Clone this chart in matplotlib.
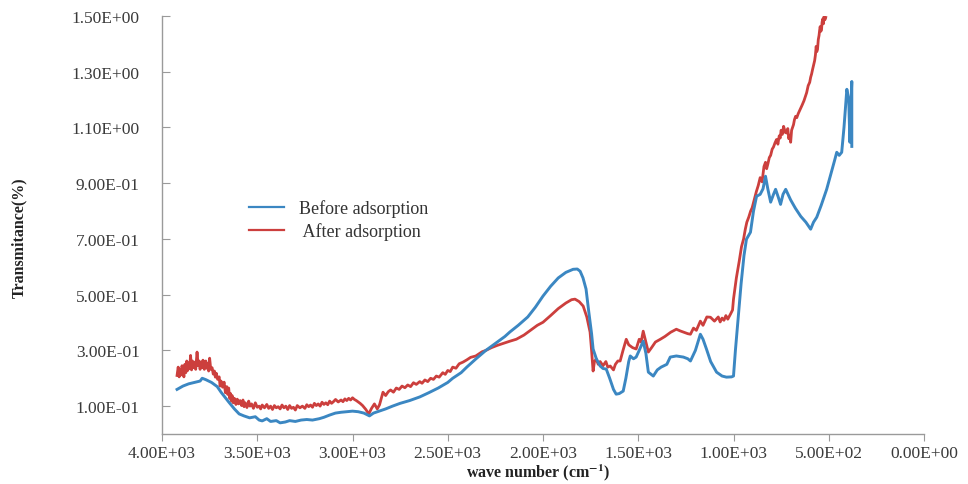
import matplotlib
matplotlib.use("Agg")
import matplotlib.pyplot as plt

# FTIR spectra: wave number (cm^-1) and transmittance
before_wn = [3921, 3890, 3860, 3830, 3800, 3789, 3770, 3740, 3710, 3690, 3674, 3650, 3620,
             3595, 3570, 3540, 3510, 3490, 3474, 3450, 3430, 3400, 3380, 3353, 3330, 3300,
             3270, 3240, 3210, 3174, 3150, 3120, 3090, 3060, 3030, 3000, 2970, 2940, 2911,
             2890, 2860, 2826, 2790, 2750, 2700, 2647, 2600, 2550, 2500, 2474, 2430, 2400,
             2353, 2300, 2250, 2200, 2174, 2130, 2080, 2040, 2000, 1960, 1920, 1880, 1842,
             1820, 1805, 1790, 1774, 1760, 1745, 1737, 1720, 1700, 1685, 1668, 1650, 1630,
             1616, 1600, 1579, 1565, 1550, 1542, 1525, 1511, 1495, 1474, 1460, 1447, 1421,
             1400, 1380, 1350, 1332, 1300, 1263, 1240, 1226, 1200, 1174, 1160, 1142, 1120,
             1089, 1060, 1037, 1010, 1000, 990, 975, 960, 945, 932, 911, 895, 879, 860, 845,
             832, 820, 805, 790, 779, 765, 753, 740, 726, 700, 675, 647, 620, 595, 580, 563,
             540, 511, 490, 470, 458, 445, 432, 420, 405, 395, 389, 384, 379, 379]
before_t = [0.160, 0.172, 0.180, 0.185, 0.190, 0.200, 0.195, 0.185, 0.170, 0.150, 0.136, 0.115,
            0.090, 0.072, 0.065, 0.058, 0.062, 0.050, 0.047, 0.055, 0.045, 0.048, 0.040, 0.043,
            0.048, 0.045, 0.050, 0.052, 0.050, 0.055, 0.060, 0.068, 0.075, 0.078, 0.080, 0.082,
            0.080, 0.075, 0.065, 0.075, 0.082, 0.090, 0.100, 0.110, 0.120, 0.133, 0.148, 0.165,
            0.185, 0.200, 0.220, 0.240, 0.269, 0.300, 0.325, 0.350, 0.366, 0.390, 0.420, 0.455,
            0.495, 0.530, 0.560, 0.580, 0.591, 0.592, 0.584, 0.560, 0.520, 0.440, 0.360, 0.305,
            0.270, 0.244, 0.235, 0.233, 0.200, 0.160, 0.143, 0.145, 0.154, 0.200, 0.260, 0.280,
            0.270, 0.276, 0.300, 0.333, 0.290, 0.222, 0.208, 0.230, 0.240, 0.250, 0.276, 0.280,
            0.276, 0.270, 0.262, 0.300, 0.358, 0.340, 0.305, 0.260, 0.222, 0.208, 0.204, 0.205,
            0.208, 0.300, 0.420, 0.540, 0.640, 0.699, 0.724, 0.800, 0.853, 0.860, 0.880, 0.925,
            0.880, 0.832, 0.860, 0.878, 0.850, 0.824, 0.860, 0.878, 0.840, 0.810, 0.781, 0.760,
            0.735, 0.760, 0.778, 0.820, 0.878, 0.930, 0.980, 1.011, 1.000, 1.011, 1.100, 1.237,
            1.200, 1.047, 1.180, 1.265, 1.032]

# after adsorption, as (wave number, transmittance) pairs
after_pairs = [
    (3921, 0.210), (3915, 0.240), (3910, 0.205), (3905, 0.232), (3900, 0.212), (3895, 0.245),
    (3890, 0.225), (3885, 0.205), (3880, 0.250), (3875, 0.220), (3870, 0.262), (3865, 0.228),
    (3860, 0.255), (3855, 0.235), (3850, 0.282), (3845, 0.230), (3840, 0.262), (3835, 0.238),
    (3830, 0.258), (3823, 0.232), (3816, 0.294), (3810, 0.245), (3805, 0.262), (3800, 0.232),
    (3795, 0.258), (3790, 0.238), (3785, 0.265), (3778, 0.232), (3770, 0.262), (3765, 0.236),
    (3760, 0.252), (3755, 0.226), (3750, 0.272), (3744, 0.232), (3737, 0.238), (3731, 0.215),
    (3725, 0.226), (3720, 0.204), (3715, 0.218), (3708, 0.196), (3700, 0.205), (3695, 0.172),
    (3690, 0.190), (3682, 0.168), (3674, 0.186), (3667, 0.148), (3660, 0.170), (3655, 0.142),
    (3650, 0.165), (3645, 0.128), (3640, 0.145), (3636, 0.118), (3632, 0.138), (3626, 0.112),
    (3620, 0.128), (3612, 0.106), (3605, 0.125), (3598, 0.108), (3590, 0.120), (3582, 0.102),
    (3575, 0.122), (3569, 0.098), (3563, 0.112), (3554, 0.095), (3545, 0.118), (3538, 0.100),
    (3530, 0.108), (3520, 0.092), (3510, 0.112), (3500, 0.096), (3490, 0.100), (3482, 0.090),
    (3474, 0.104), (3462, 0.094), (3450, 0.106), (3440, 0.092), (3430, 0.100), (3420, 0.088),
    (3410, 0.102), (3400, 0.094), (3390, 0.098), (3380, 0.090), (3370, 0.104), (3360, 0.094),
    (3350, 0.100), (3340, 0.088), (3330, 0.102), (3320, 0.092), (3310, 0.096), (3300, 0.086),
    (3290, 0.102), (3276, 0.094), (3263, 0.100), (3250, 0.092), (3240, 0.105), (3230, 0.098),
    (3220, 0.104), (3210, 0.096), (3200, 0.110), (3190, 0.102), (3180, 0.108), (3170, 0.100),
    (3160, 0.114), (3150, 0.106), (3140, 0.112), (3130, 0.105), (3120, 0.118), (3110, 0.110),
    (3100, 0.116), (3089, 0.124), (3075, 0.115), (3060, 0.122), (3050, 0.116), (3040, 0.126),
    (3030, 0.120), (3020, 0.128), (3010, 0.122), (3000, 0.130), (2990, 0.124), (2980, 0.120),
    (2970, 0.115), (2960, 0.110), (2947, 0.102), (2930, 0.088), (2915, 0.072), (2900, 0.092),
    (2885, 0.108), (2870, 0.090), (2858, 0.105), (2840, 0.150), (2826, 0.138), (2812, 0.152),
    (2800, 0.158), (2785, 0.150), (2770, 0.165), (2755, 0.160), (2740, 0.172), (2725, 0.166),
    (2710, 0.176), (2695, 0.170), (2680, 0.184), (2665, 0.178), (2647, 0.188), (2635, 0.182),
    (2620, 0.194), (2605, 0.188), (2590, 0.200), (2575, 0.196), (2560, 0.208), (2545, 0.204),
    (2526, 0.220), (2513, 0.214), (2500, 0.228), (2487, 0.224), (2474, 0.240), (2457, 0.236),
    (2440, 0.252), (2420, 0.258), (2400, 0.266), (2380, 0.275), (2353, 0.280), (2320, 0.295),
    (2300, 0.300), (2270, 0.310), (2240, 0.318), (2210, 0.325), (2174, 0.333), (2140, 0.340),
    (2100, 0.355), (2060, 0.375), (2030, 0.390), (2000, 0.401), (1960, 0.425), (1920, 0.450),
    (1880, 0.470), (1850, 0.482), (1832, 0.484), (1810, 0.475), (1789, 0.459), (1770, 0.420),
    (1753, 0.366), (1745, 0.300), (1737, 0.226), (1730, 0.260), (1721, 0.269), (1710, 0.250),
    (1700, 0.260), (1685, 0.245), (1670, 0.260), (1660, 0.240), (1647, 0.244), (1630, 0.230),
    (1620, 0.250), (1607, 0.262), (1595, 0.262), (1580, 0.300), (1563, 0.340), (1550, 0.320),
    (1530, 0.310), (1511, 0.305), (1495, 0.340), (1485, 0.330), (1474, 0.369), (1460, 0.330),
    (1447, 0.294), (1430, 0.310), (1410, 0.330), (1384, 0.340), (1360, 0.350), (1330, 0.365),
    (1300, 0.376), (1280, 0.370), (1260, 0.365), (1240, 0.360), (1226, 0.358), (1210, 0.380),
    (1195, 0.372), (1174, 0.405), (1160, 0.390), (1140, 0.420), (1121, 0.419), (1100, 0.405),
    (1080, 0.420), (1070, 0.402), (1060, 0.416), (1050, 0.408), (1040, 0.425), (1030, 0.412),
    (1016, 0.430), (1005, 0.445), (1000, 0.484), (985, 0.560), (970, 0.620), (958, 0.672),
    (947, 0.700), (938, 0.735), (930, 0.760), (920, 0.778), (910, 0.800), (902, 0.812),
    (895, 0.830), (888, 0.848), (880, 0.870), (870, 0.892), (860, 0.920), (850, 0.905),
    (840, 0.960), (832, 0.975), (826, 0.952), (820, 0.968), (812, 0.992), (805, 1.000),
    (797, 1.022), (790, 1.030), (782, 1.045), (774, 1.057), (767, 1.040), (760, 1.070),
    (755, 1.062), (750, 1.090), (744, 1.075), (737, 1.104), (728, 1.082), (720, 1.080),
    (715, 1.096), (710, 1.060), (705, 1.072), (700, 1.047), (695, 1.090), (690, 1.100),
    (685, 1.110), (680, 1.128), (674, 1.140), (668, 1.135), (660, 1.150), (650, 1.165),
    (640, 1.180), (630, 1.196), (623, 1.211), (616, 1.225), (608, 1.250), (600, 1.262),
    (595, 1.280), (590, 1.292), (585, 1.308), (579, 1.325), (574, 1.340), (570, 1.360),
    (566, 1.391), (563, 1.372), (559, 1.380), (555, 1.415), (551, 1.430), (548, 1.448),
    (545, 1.462), (542, 1.445), (538, 1.450), (535, 1.478), (531, 1.490), (528, 1.472),
    (524, 1.500), (520, 1.487), (516, 1.495),
]
after_wn = [p[0] for p in after_pairs]
after_t = [p[1] for p in after_pairs]

x_ticks = [4000, 3500, 3000, 2500, 2000, 1500, 1000, 500, 0]
x_tick_labels = ["4.00E+03", "3.50E+03", "3.00E+03", "2.50E+03", "2.00E+03",
                 "1.50E+03", "1.00E+03", "5.00E+02", "0.00E+00"]
y_ticks = [0.1, 0.3, 0.5, 0.7, 0.9, 1.1, 1.3, 1.5]
y_tick_labels = ["1.00E-01", "3.00E-01", "5.00E-01", "7.00E-01", "9.00E-01",
                 "1.10E+00", "1.30E+00", "1.50E+00"]

plt.rcParams["font.family"] = ["Liberation Serif", "DejaVu Serif"]
plt.rcParams["mathtext.fontset"] = "stix"

fig = plt.figure(figsize=(9.68, 4.85), dpi=100)
ax = fig.add_axes([162 / 968, 1 - 435 / 485, (924 - 162) / 968, (435 - 17) / 485])

blue = "#3b87c2"
red = "#cc3f3d"
ax.plot(before_wn, before_t, color=blue, lw=2.1, label="Before adsorption", zorder=3)
ax.plot(after_wn, after_t, color=red, lw=2.0, label=" After adsorption", zorder=2)

ax.set_xlim(4000, 0)
ax.set_ylim(0.0, 1.5)
ax.set_xticks(x_ticks)
ax.set_xticklabels(x_tick_labels)
ax.set_yticks(y_ticks)
ax.set_yticklabels(y_tick_labels)

for side in ("top", "right"):
    ax.spines[side].set_visible(False)
for side in ("left", "bottom"):
    ax.spines[side].set_color("#9a9a9a")
    ax.spines[side].set_linewidth(1.0)

ax.tick_params(axis="y", direction="in", length=6, color="#9a9a9a", pad=16,
               labelsize=12.5, labelcolor="#3a3a3a")
ax.tick_params(axis="x", direction="out", length=5, color="#9a9a9a", pad=3,
               labelsize=12.5, labelcolor="#3a3a3a")

fig.text(0.5 * (162 + 924) / 968 - 0.005, 1 - 473 / 485,
         r"wave number (cm$^{\mathbf{-1}}$)", ha="center", va="center",
         fontsize=11.5, fontweight="bold", color="#222222")
fig.text(19 / 968, 1 - 238 / 485, "Transmitance(%)", rotation=90,
         ha="center", va="center", fontsize=11.5, fontweight="bold", color="#222222")

leg = ax.legend(loc="upper left", bbox_to_anchor=(233 / 968, 1 - 184 / 485),
                bbox_transform=fig.transFigure, frameon=False, fontsize=13,
                handlelength=1.95, handletextpad=0.8, labelspacing=0.3)
for txt in leg.get_texts():
    txt.set_color("#333333")
for line in leg.get_lines():
    line.set_linewidth(1.6)

fig.savefig("out.png", dpi=100)
